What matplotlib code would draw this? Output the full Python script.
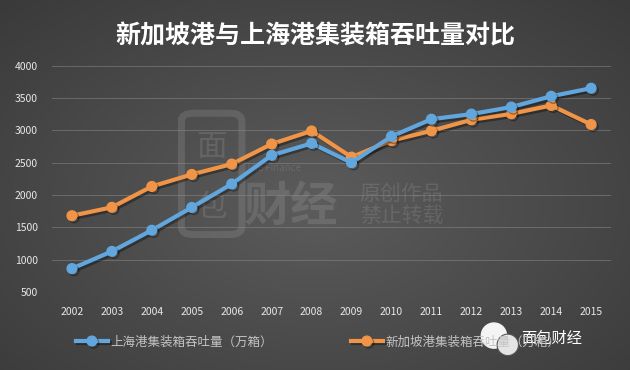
import numpy as np
import matplotlib
matplotlib.use("Agg")
from matplotlib import pyplot as plt
from matplotlib import patheffects as pe
from matplotlib.patches import Ellipse, FancyBboxPatch

plt.rcParams['font.family'] = ['Noto Sans CJK SC', 'DejaVu Sans']

years = ['2002', '2003', '2004', '2005', '2006', '2007', '2008',
         '2009', '2010', '2011', '2012', '2013', '2014', '2015']
shanghai = [861, 1128, 1455, 1808, 2171, 2615, 2800,
            2500, 2907, 3174, 3253, 3362, 3529, 3654]
singapore = [1680, 1810, 2133, 2319, 2479, 2790, 2992,
             2587, 2843, 2994, 3165, 3258, 3387, 3092]
yticks = [500, 1000, 1500, 2000, 2500, 3000, 3500, 4000]

label_sh = '上海港集装箱吞吐量（万箱）'
label_sg = '新加坡港集装箱吞吐量（万箱）'
title = '新加坡港与上海港集装箱吞吐量对比'

fig = plt.figure(figsize=(6.3, 3.7), dpi=100)

# radial grey background, lighter in the middle
bg = fig.add_axes([0, 0, 1, 1], zorder=-10)
yy, xx = np.mgrid[0:1:370j, 0:1:630j]
r = np.sqrt(((xx - 0.5) / 0.7) ** 2 + ((yy - 0.55) / 0.75) ** 2)
r = np.clip(r, 0, 1)
shade = 0.36 - 0.13 * r
rgb = np.dstack([shade, shade, shade])
bg.imshow(rgb, aspect='auto', extent=[0, 1, 0, 1])
bg.set_axis_off()
bg.set_xlim(0, 1)
bg.set_ylim(0, 1)

# watermark
wm = dict(color='white', alpha=0.11)
bg.add_patch(FancyBboxPatch((0.292, 0.37), 0.088, 0.32,
                            boxstyle='round,pad=0.004,rounding_size=0.02',
                            fill=False, ec='white', alpha=0.11, lw=5))
bg.text(0.336, 0.6, '面', fontsize=22, ha='center', va='center', **wm)
bg.text(0.336, 0.44, '包', fontsize=22, ha='center', va='center', **wm)
bg.text(0.462, 0.44, '财经', fontsize=34, fontweight='bold',
        ha='center', va='center', **wm)
bg.text(0.39, 0.545, 'The Finance', fontsize=7, ha='left', va='center', **wm)
bg.text(0.571, 0.445, '原创作品\n禁止转载', fontsize=15, linespacing=1.0,
        ha='left', va='center', **wm)

ax = fig.add_axes([0.0825, 0.211, 0.8875, 0.611])
ax.set_facecolor('none')
x = np.arange(len(years))

shadow = [pe.SimpleLineShadow(offset=(1.5, -1.5), alpha=0.35), pe.Normal()]
ax.plot(x, shanghai, color='#62a6de', lw=3, marker='o', ms=7,
        label=label_sh, path_effects=shadow, zorder=3)
ax.plot(x, singapore, color='#f09447', lw=3, marker='o', ms=7,
        label=label_sg, path_effects=shadow, zorder=2)

ax.set_xlim(-0.5, len(years) - 0.5)
ax.set_ylim(500, 4000)
ax.set_xticks(x)
ax.set_xticklabels(years)
ax.set_yticks(yticks)
ax.tick_params(length=0, colors='#e8e8e8', labelsize=7.5)
ax.tick_params(axis='x', pad=11)
ax.tick_params(axis='y', pad=10)
ax.grid(axis='y', color='#8c8c8c', lw=0.6, alpha=0.6)
for s in ax.spines.values():
    s.set_visible(False)

fig.text(0.5, 0.902, title, color='white', fontsize=18, fontweight='bold',
         ha='center', va='center')

leg = fig.legend(loc='center left', bbox_to_anchor=(0.12, 0.076), ncol=2,
                 frameon=False, fontsize=9, labelcolor='#c4c4c4',
                 handlelength=2.6, handletextpad=0.2, columnspacing=6.2,
                 borderaxespad=0, borderpad=0)

# wechat mark
bg.add_patch(Ellipse((0.784, 0.093), 0.04, 0.068, color='#f4f4f4'))
bg.add_patch(Ellipse((0.806, 0.068), 0.034, 0.058, color='#e4e4e4',
                     ec='#555555', lw=0.8))
bg.text(0.876, 0.085, '面包财经', color='white', fontsize=11, ha='center',
        va='center')

fig.savefig('out.png', dpi=100)
